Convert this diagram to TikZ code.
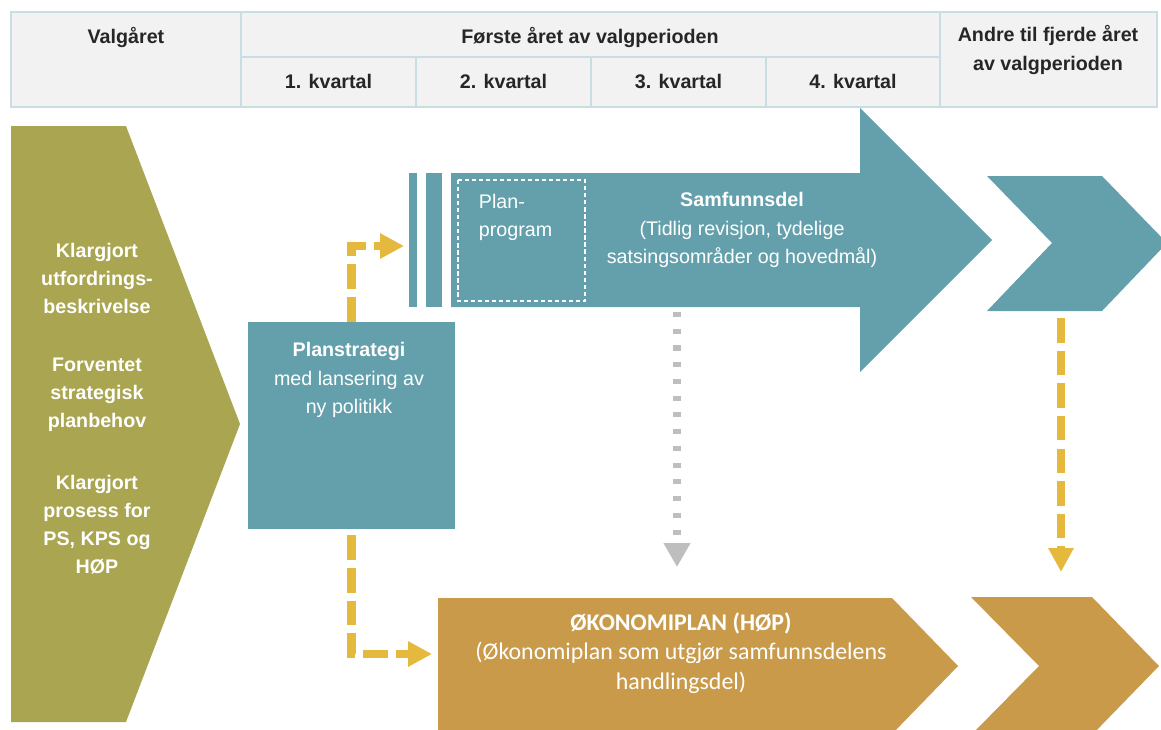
\documentclass[tikz,border=0pt]{standalone}
\usepackage{fontspec}
\setmainfont{Liberation Sans}
\newfontfamily\calibrifont{Carlito}
\usetikzlibrary{arrows.meta,positioning}
\definecolor{hdrfill}{RGB}{242,242,242}
\definecolor{hdrline}{RGB}{200,222,228}
\definecolor{olivegreen}{RGB}{169,165,80}
\definecolor{tealblue}{RGB}{100,160,172}
\definecolor{okoorange}{RGB}{201,154,74}
\definecolor{dashyellow}{RGB}{229,184,62}
\definecolor{dotgray}{RGB}{190,190,190}

\begin{document}
\begin{tikzpicture}[x=0.025cm, y=-0.025cm,
    hdrcell/.style={fill=hdrfill, draw=hdrline, line width=1pt},
    hdrtext/.style={font=\fontsize{14}{20}\selectfont\bfseries, text=black!85, align=center},
    boxtext/.style={font=\fontsize{14}{20}\selectfont, text=white, align=center},
    oliventext/.style={boxtext, font=\fontsize{14}{19.9}\selectfont\bfseries},
    okotext/.style={font=\calibrifont\fontsize{17}{21}\selectfont, text=white, align=center},
    yarrow/.style={draw=dashyellow, line width=5.7pt, dash pattern=on 17.5pt off 5.7pt, -{Triangle[width=17pt,length=17pt]}},
    garrow/.style={draw=dotgray, line width=5.7pt, dash pattern=on 3.6pt off 8.3pt, -{Triangle[width=18pt,length=17pt]}}
]
\clip (0,0) rectangle (1161,729);
\fill[white] (0,0) rectangle (1161,729);

% header table
\path[hdrcell] (11,12) rectangle (241,107);
\path[hdrcell] (241,12) rectangle (940,57);
\foreach \xa/\xb in {241/416, 416/591, 591/766, 766/940}
    \path[hdrcell] (\xa,57) rectangle (\xb,107);
\path[hdrcell] (940,12) rectangle (1157,107);

\node[hdrtext] (valg-head) at (126,37) {Valgåret};
\node[hdrtext] (forste-head) at (590,37) {Første året av valgperioden};
\foreach \i/\xc in {1/328.5, 2/503.5, 3/678.5, 4/853}
    \node[hdrtext] (q\i) at (\xc,81) {\i. kvartal};
\node[hdrtext] (andre-head) at (1048,50) {Andre til fjerde året\\av valgperioden};

% valgaaret (olive)
\fill[olivegreen] (11,126) -- (126,126) -- (240,424) -- (126,722) -- (11,722) -- cycle;
\node[oliventext] (olive1) at (97,278) {Klargjort\\utfordrings-\\beskrivelse};
\node[oliventext] (olive2) at (97,395) {Forventet\\strategisk\\planbehov};
\node[oliventext] (olive3) at (97,525) {Klargjort\\prosess for\\PS, KPS og\\HØP};

% planstrategi
\node[fill=tealblue, minimum width=5.175cm, minimum height=5.175cm, inner sep=0pt] (plan) at (351.5,425.5) {};
\node[boxtext] (plan-text) at (349,380) {\textbf{Planstrategi}\\med lansering av\\ny politikk};

% samfunnsdel arrow
\fill[tealblue] (409,173) rectangle (417,307);
\fill[tealblue] (426,173) rectangle (442,307);
\fill[tealblue] (451,173) -- (860,173) -- (860,108) -- (992,240) -- (860,372) -- (860,307) -- (451,307) -- cycle;
\draw[white, line width=0.8pt, dash pattern=on 3pt off 2pt] (458,180) rectangle (585,301);
\node[boxtext, align=left, anchor=west] (planprogram) at (474,217) {Plan-\\program};
\node[boxtext] (samf-text) at (742,230) {\textbf{Samfunnsdel}\\(Tidlig revisjon, tydelige\\satsingsområder og hovedmål)};

% later years (teal chevron)
\fill[tealblue] (987,176) -- (1102,176) -- (1167,243) -- (1102,311) -- (987,311) -- (1052,243) -- cycle;

% okonomiplan
\fill[okoorange] (438,598) -- (892,598) -- (958,666) -- (892,734) -- (438,734) -- cycle;
\fill[okoorange] (971,597) -- (1092,597) -- (1159,666) -- (1092,735) -- (971,735) -- (1039,666) -- cycle;
\node[okotext] (oko-text) at (681,653) {\textbf{ØKONOMIPLAN (HØP)}\\(Økonomiplan som utgjør samfunnsdelens\\handlingsdel)};

% connectors
\coordinate (bar-in) at (404,246);
\coordinate (oko-in) at (432,654);
\coordinate (samf-out) at (677,312);
\coordinate (oko-top) at (677,567);
\coordinate (later-out) at (1061,318);
\coordinate (later-oko) at (1061,572);

\draw[yarrow] (plan.north) |- (bar-in);
\draw[yarrow] ([yshift=-0.15cm]plan.south) |- (oko-in);
\draw[garrow] (samf-out) -- (oko-top);
\draw[yarrow] (later-out) -- (later-oko);

\end{tikzpicture}
\end{document}
